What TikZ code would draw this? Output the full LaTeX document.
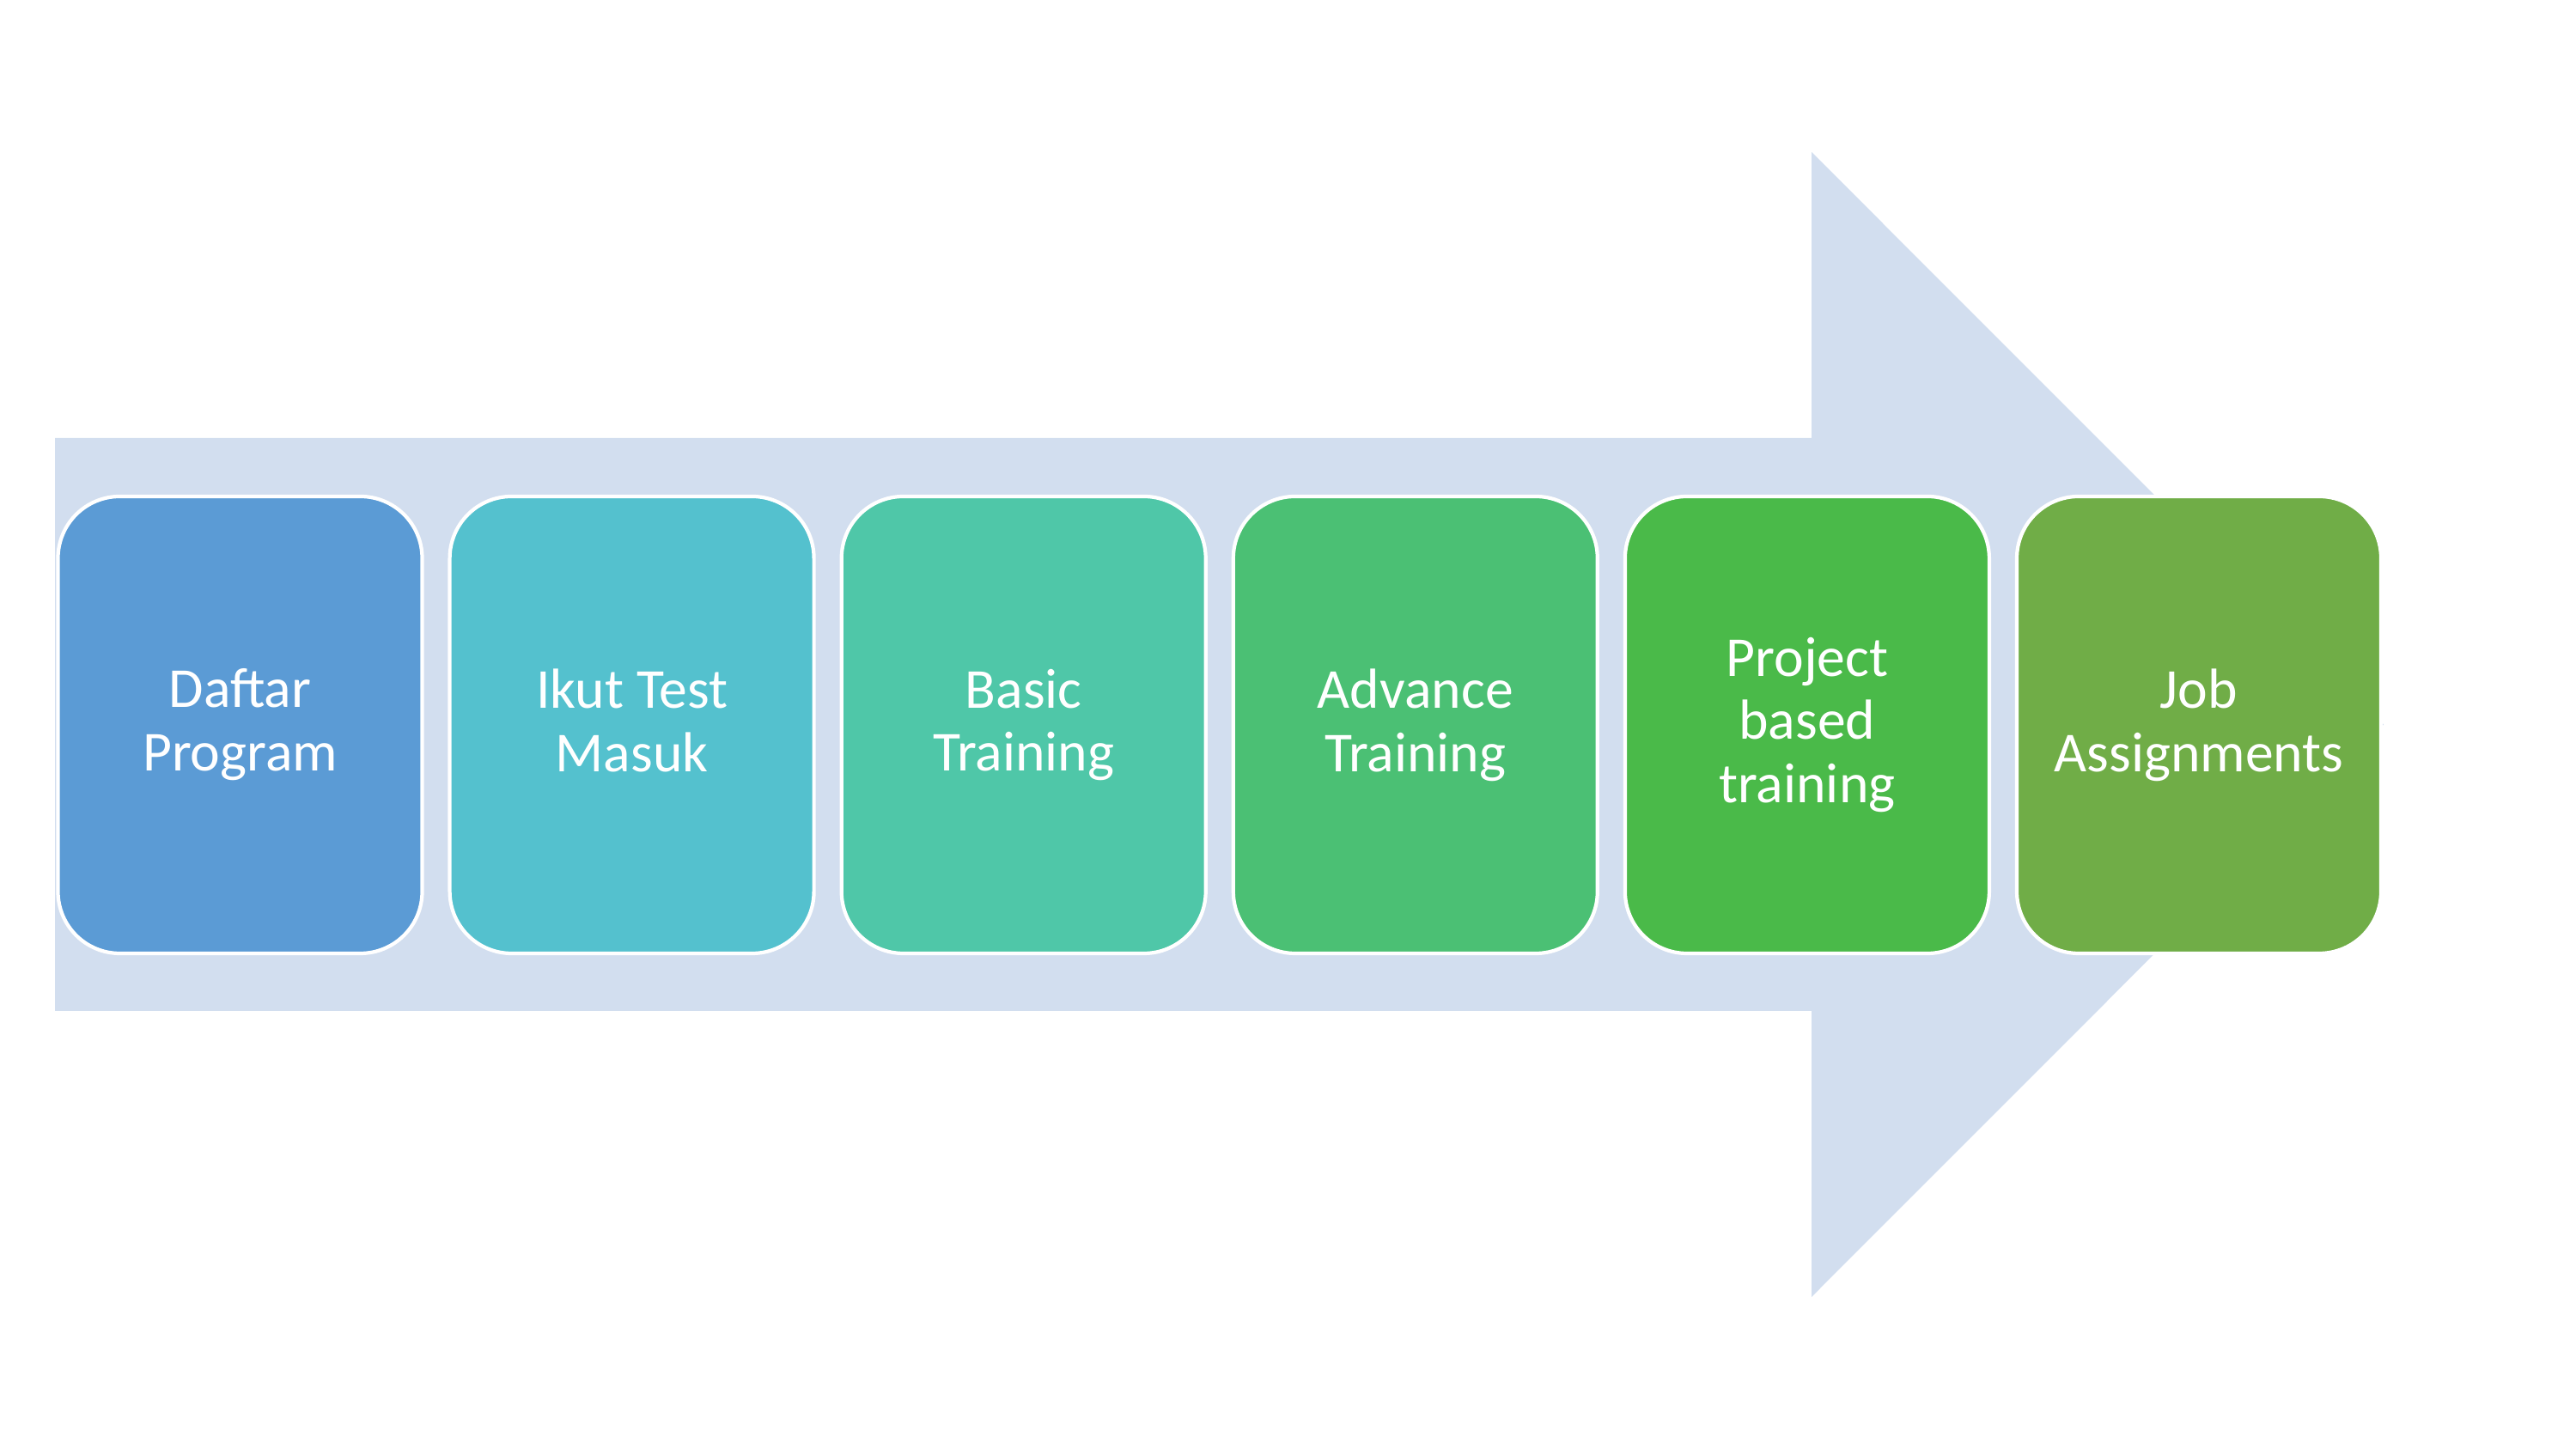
\documentclass[tikz,border=0pt]{standalone}
\usepackage{fontspec}
\setmainfont{Carlito}
\usepackage{tikz}
\usetikzlibrary{positioning, calc}
\definecolor{marrow}{HTML}{D2DEEF}
\definecolor{sone}{HTML}{5B9BD5}
\definecolor{stwo}{HTML}{54C1CE}
\definecolor{sthree}{HTML}{4FC7A8}
\definecolor{sfour}{HTML}{4BC074}
\definecolor{sfive}{HTML}{4ABA49}
\definecolor{ssix}{HTML}{70AD47}
\tikzset{
  stagebox/.style={draw=white, line width=1.2pt, rounded corners=0.72cm,
                   minimum width=4.24cm, minimum height=5.32cm, text=white,
                   align=center, inner sep=4pt, font=\fontsize{18.7}{21}\selectfont},
}

\begin{document}
\begin{tikzpicture}
  \useasboundingbox (0,0) rectangle (29.99,16.87);

  % Big arrow
  \fill[marrow] (0.64,5.10) -- (0.64,11.77) -- (21.09,11.77) -- (21.09,15.10)
    -- (27.75,8.435) -- (21.09,1.77) -- (21.09,5.10) -- cycle;

  % Stages
  \node[stagebox, fill=sone] (daftar) at (2.795, 8.43) {Daftar\\Program};
  \node[stagebox, fill=stwo] (test) at (7.356, 8.43) {Ikut Test\\Masuk\vphantom{g}};
  \node[stagebox, fill=sthree] (basic) at (11.917, 8.43) {Basic\\Training};
  \node[stagebox, fill=sfour] (advance) at (16.478, 8.43) {Advance\\Training};
  \node[stagebox, fill=sfive] (project) at (21.039, 8.43) {Project\\based\\training};
  \node[stagebox, fill=ssix] (job) at (25.60, 8.43) {Job\\Assignments};

\end{tikzpicture}
\end{document}
